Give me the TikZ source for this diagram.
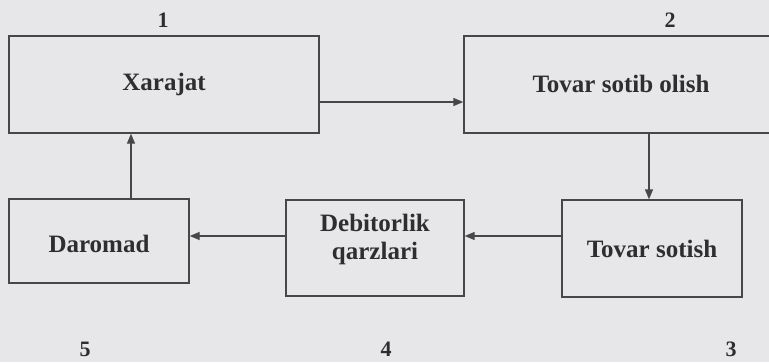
\documentclass[tikz,border=0pt]{standalone}
\usepackage{fontspec}
\setmainfont{Liberation Serif}
\usetikzlibrary{arrows.meta}
\definecolor{paper}{HTML}{E7E7EA}
\definecolor{ink}{HTML}{47474A}
\definecolor{txt}{HTML}{2E2E30}
\tikzset{
  stagebox/.style={draw=ink, line width=1.4pt, rectangle, inner sep=0pt,
    text=txt, font=\fontsize{25}{28}\selectfont\bfseries},
  stagetext/.style={text=txt, font=\fontsize{25}{28}\selectfont\bfseries, align=center, inner sep=0pt},
  stagenum/.style={text=txt, font=\fontsize{22}{26}\selectfont\bfseries, inner sep=0pt},
  flow/.style={draw=ink, line width=1.4pt, -{Triangle[length=10pt,width=8pt]}}
}
\begin{document}
\begin{tikzpicture}[x=1pt,y=-1pt]
  % page area
  \fill[paper] (0,0) rectangle (769,362);
  \useasboundingbox (0,0) rectangle (769,362);
  \clip (0,0) rectangle (769,362);

  % stages of the cycle
  \node[stagebox, minimum width=310pt, minimum height=97pt] (b1) at (164,84.5) {Xarajat};
  \node[stagebox, minimum width=312pt, minimum height=97pt] (b2) at (620,84.5) {};
  \node[stagetext] (t2) at (621,84) {Tovar sotib olish};
  \node[stagebox, minimum width=180pt, minimum height=97pt] (b3) at (652,248.5) {Tovar sotish};
  \node[stagebox, minimum width=178pt, minimum height=96pt] (b4) at (375,248) {};
  \node[stagetext] (t4) at ([yshift=9pt]b4.center) {Debitorlik\\qarzlari};
  \node[stagebox, minimum width=180pt, minimum height=84pt] (b5) at (99,241) {};
  \node[stagetext] (t5) at ([yshift=-3pt]b5.center) {Daromad};

  % stage numbers
  \node[stagenum] (n1) at (163,20) {1};
  \node[stagenum] (n2) at (670,20) {2};
  \node[stagenum] (n3) at (731,349) {3};
  \node[stagenum] (n4) at (386,349) {4};
  \node[stagenum] (n5) at (85,349) {5};

  % connectors
  \draw[flow] ([yshift=-17.5pt]b1.east) -- ([yshift=-17.5pt]b1.east -| b2.west);
  \draw[flow] ([xshift=-3pt]b3.north |- b2.south) -- ([xshift=-3pt]b3.north);
  \draw[flow] ([yshift=12.5pt]b3.west) -- ([yshift=12.5pt]b3.west -| b4.east);
  \draw[flow] ([yshift=12pt]b4.west) -- ([yshift=12pt]b4.west -| b5.east);
  \draw[flow] ([xshift=32pt]b5.north) -- ([xshift=32pt]b5.north |- b1.south);
\end{tikzpicture}
\end{document}
